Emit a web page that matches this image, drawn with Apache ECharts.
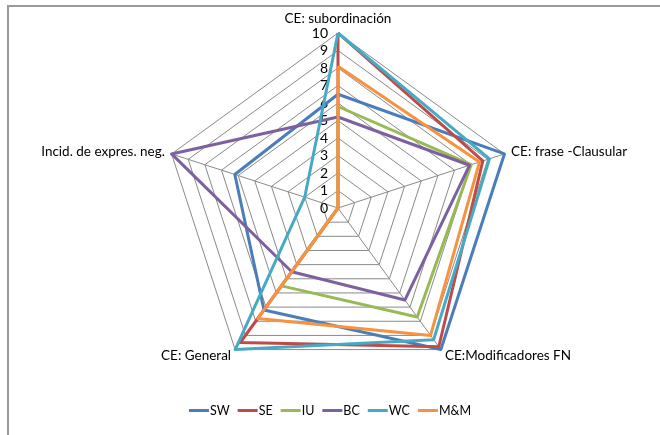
<!DOCTYPE html>
<html>
<head>
<meta charset="utf-8">
<script src="https://cdn.jsdelivr.net/npm/echarts@6/dist/echarts.min.js"></script>
<style>
  html, body { margin: 0; padding: 0; background: #fff; }
  #chart { width: 660px; height: 435px; }
</style>
</head>
<body>
<div id="chart"></div>
<script>
// Radar axes (clockwise from the top)
const indicatorNames = ['CE: subordinación', 'CE: frase -Clausular', 'CE:Modificadores FN', 'CE: General', 'Incid. de expres. neg.'];
const axisMax = 10;

// Series values, one per axis in the order above
const seriesNames = ['SW', 'SE', 'IU', 'BC', 'WC', 'M&M'];
const SW = [6.5, 10, 10, 7.2, 6.2];
const SE = [10, 8.7, 9.8, 9.5, 0];
const IU = [5.8, 8, 7.7, 5.5, 0];
const BC = [5.2, 7.9, 6.5, 4.5, 10];
const WC = [10, 9.1, 9.3, 10, 2];
const MM = [8.1, 8.5, 9, 7.8, 0];
const seriesColors = ['#4A7EBB', '#BE4B48', '#98B954', '#7D60A0', '#46AAC5', '#F69240'];

const FONT = 'Lato';
const values = [SW, SE, IU, BC, WC, MM];

// ECharts lays indicators out counter-clockwise; reorder so they run clockwise
const order = [0, 4, 3, 2, 1];
const indicators = order.map(i => ({ name: indicatorNames[i], max: axisMax, min: 0 }));

const chart = echarts.init(document.getElementById('chart'), null, { renderer: 'canvas' });
chart.setOption({
  animation: false,
  backgroundColor: '#fff',
  textStyle: { fontFamily: FONT },
  graphic: [{
    type: 'polyline',
    shape: { points: [[8, 440], [8, 6], [670, 6]] },
    style: { stroke: '#9a9a9a', lineWidth: 2, fill: null },
    silent: true
  }],
  legend: {
    bottom: 13,
    left: 'center',
    icon: 'rect',
    itemWidth: 20,
    itemHeight: 3,
    itemGap: 8,
    textStyle: { fontFamily: FONT, fontSize: 12.5, color: '#000', padding: [0, 0, 0, -4] },
    data: seriesNames
  },
  radar: {
    center: [338, 208],
    radius: 175,
    startAngle: 90,
    shape: 'polygon',
    splitNumber: 10,
    indicator: indicators,
    nameGap: 7,
    axisName: { color: '#000', fontFamily: FONT, fontSize: 13.5 },
    axisLine: { lineStyle: { color: '#8a8a8a', width: 1 } },
    splitLine: { lineStyle: { color: '#8a8a8a', width: 1 } },
    splitArea: { show: false },
    axisTick: { show: false },
    axisLabel: { show: false }
  },
  // value scale printed along the upper spoke
  grid: { left: 338, top: 33, width: 1, height: 175 },
  xAxis: { type: 'value', show: false },
  yAxis: {
    type: 'value', min: 0, max: axisMax, interval: 1,
    axisLine: { show: false }, axisTick: { show: false }, splitLine: { show: false },
    axisLabel: { margin: 10, fontSize: 14, color: '#000', fontFamily: FONT }
  },
  series: [{
    type: 'radar',
    symbol: 'none',
    silent: true,
    data: seriesNames.map((name, k) => ({
      name: name,
      value: order.map(i => values[k][i]),
      lineStyle: { color: seriesColors[k], width: 3 },
      itemStyle: { color: seriesColors[k] }
    }))
  }]
});
</script>
</body>
</html>
